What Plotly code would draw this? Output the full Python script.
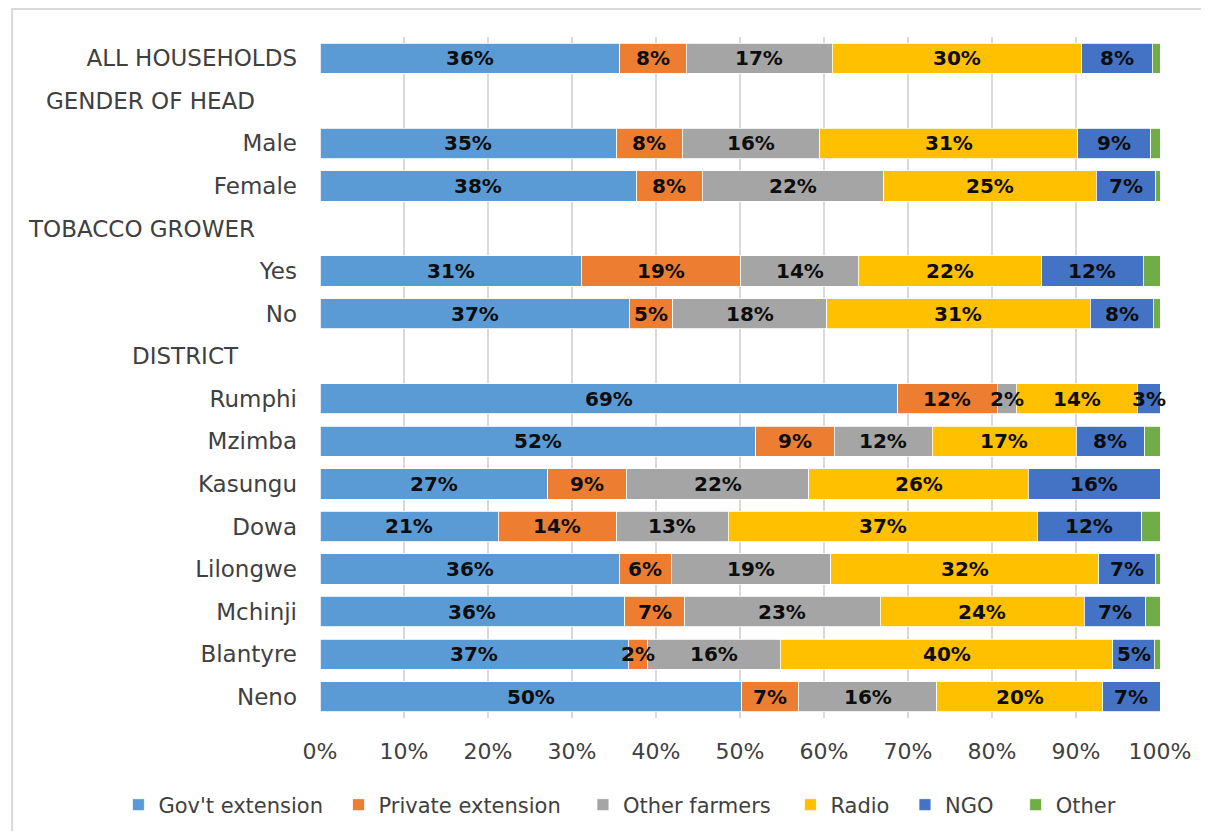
import plotly.graph_objects as go

categories = ["ALL HOUSEHOLDS", "GENDER OF HEAD", "Male", "Female", "TOBACCO GROWER",
              "Yes", "No", "DISTRICT", "Rumphi", "Mzimba", "Kasungu", "Dowa",
              "Lilongwe", "Mchinji", "Blantyre", "Neno"]
headers = ["GENDER OF HEAD", "TOBACCO GROWER", "DISTRICT"]

series_names = ["Gov't extension", "Private extension", "Other farmers", "Radio", "NGO", "Other"]
gov_ext   = [35.7, None, 35.3, 37.7, None, 31.1, 36.8, None, 68.8, 51.9, 27.1, 21.2, 35.6, 36.3, 36.7, 50.2]
priv_ext  = [7.9, None, 7.8, 7.8, None, 19.0, 5.2, None, 11.8, 9.3, 9.4, 14.1, 6.2, 7.1, 2.3, 6.8]
other_farmers = [17.4, None, 16.4, 21.6, None, 14.0, 18.3, None, 2.3, 11.7, 21.7, 13.3, 19.0, 23.3, 15.8, 16.4]
radio     = [29.7, None, 30.7, 25.3, None, 21.8, 31.4, None, 14.4, 17.1, 26.1, 36.8, 31.9, 24.3, 39.6, 19.8]
ngo       = [8.4, None, 8.7, 7.1, None, 12.1, 7.5, None, 2.7, 8.2, 15.7, 12.4, 6.8, 7.3, 4.9, 6.8]
other     = [0.9, None, 1.1, 0.5, None, 2.0, 0.8, None, 0.0, 1.8, 0.0, 2.2, 0.5, 1.7, 0.7, 0.0]
colors = ["#5B9BD5", "#ED7D31", "#A5A5A5", "#FFC000", "#4472C4", "#70AD47"]
labelled = [True, True, True, True, True, False]

x_ticks = list(range(0, 101, 10))

FONT = "DejaVu Sans"
TXT = "#404040"
all_series = [gov_ext, priv_ext, other_farmers, radio, ngo, other]
# extra room after each legend entry
spacers = ["\u2002", "\u2002\u00a0", "\u2002\u2009", "\u2002", "\u2002\u00a0", ""]

fig = go.Figure()
for name, vals, col, sp in zip(series_names, all_series, colors, spacers):
    fig.add_trace(go.Bar(
        y=categories, x=vals, name=name + sp, orientation="h",
        marker=dict(color=col, line=dict(color="white", width=0.8)),
        hoverinfo="skip",
    ))

# data labels centred on each segment (derived from the stacked values)
for i, cat in enumerate(categories):
    start = 0.0
    for vals, show in zip(all_series, labelled):
        v = vals[i]
        if v is None:
            continue
        if show and v > 0:
            fig.add_annotation(x=start + v / 2, y=cat, xref="x", yref="y",
                               text=f"<b>{round(v)}%</b>", showarrow=False,
                               xanchor="center", yanchor="middle",
                               font=dict(family=FONT, size=20, color="#0d0d0d"))
        start += v

ticktext = ["" if c in headers else c for c in categories]

fig.update_layout(
    barmode="stack",
    bargap=0.29,
    width=1193, height=823,
    margin=dict(l=312, r=40.5, t=29, b=113, autoexpand=False),
    paper_bgcolor="white", plot_bgcolor="white",
    font=dict(family=FONT, size=23, color=TXT),
    xaxis=dict(range=[0, 100], tickvals=x_ticks, ticktext=[f"{v}%" for v in x_ticks],
               showgrid=True, gridcolor="#d9d9d9", gridwidth=1.5,
               zeroline=False, showline=False, ticks="",
               tickfont=dict(family=FONT, size=22, color=TXT),
               ticklabelstandoff=18, automargin=False, fixedrange=True),
    yaxis=dict(categoryorder="array", categoryarray=categories, autorange="reversed",
               tickvals=categories, ticktext=ticktext,
               tickfont=dict(family=FONT, size=23, color=TXT),
               ticks="", showline=False, showgrid=False,
               ticklabelstandoff=22, automargin=False, fixedrange=True),
    legend=dict(orientation="h", x=-0.240, xanchor="left", y=-0.1278, yanchor="middle",
                font=dict(family=FONT, size=21, color=TXT),
                traceorder="normal", itemwidth=30),
    showlegend=True,
)

# header labels
header_pos = {"GENDER OF HEAD": -0.0750, "TOBACCO GROWER": -0.0750, "DISTRICT": -0.0940}
for h in headers:
    fig.add_annotation(x=header_pos[h], xref="paper", y=h, yref="y", text=h,
                       showarrow=False, xanchor="right", yanchor="middle",
                       font=dict(family=FONT, size=23, color=TXT))

# chart-area frame
fig.add_shape(type="rect", xref="paper", yref="paper",
              x0=-0.3665, x1=1.2, y0=-0.3, y1=1.0411,
              line=dict(color="#d9d9d9", width=2), fillcolor="rgba(0,0,0,0)", layer="below")

fig.write_html("out.html")
